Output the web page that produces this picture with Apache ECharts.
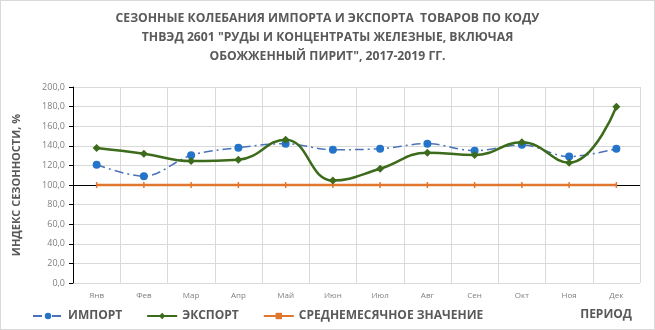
<!DOCTYPE html>
<html><head><meta charset="utf-8">
<script src="https://cdn.jsdelivr.net/npm/echarts@6/dist/echarts.min.js"></script>
<style>
html,body{margin:0;padding:0;background:#fff;}
#wrap{position:absolute;left:0;top:0;width:653px;height:328px;border:1px solid #d9d9d9;}
#c{width:653px;height:328px;}
</style></head>
<body><div id="wrap"><div id="c"></div></div>
<script>
const categories = ['Янв','Фев','Мар','Апр','Май','Июн','Июл','Авг','Сен','Окт','Ноя','Дек'];
const importValues = [120.7, 109.0, 130.3, 138.0, 142.2, 136.0, 137.0, 142.2, 135.0, 141.0, 129.0, 137.0];
const exportValues = [137.8, 132.0, 124.4, 125.8, 146.3, 104.6, 116.6, 133.0, 130.6, 143.6, 122.8, 179.8];
const averageValues = [100, 100, 100, 100, 100, 100, 100, 100, 100, 100, 100, 100];
const axisCrossValue = 100;
const yTicks = {min: 0, max: 200, interval: 20};
const seriesNames = ['ИМПОРТ', 'ЭКСПОРТ', 'СРЕДНЕМЕСЯЧНОЕ ЗНАЧЕНИЕ'];
const titleText = 'СЕЗОННЫЕ КОЛЕБАНИЯ ИМПОРТА И ЭКСПОРТА  ТОВАРОВ ПО КОДУ\nТНВЭД 2601 "РУДЫ И КОНЦЕНТРАТЫ ЖЕЛЕЗНЫЕ, ВКЛЮЧАЯ\nОБОЖЖЕННЫЙ ПИРИТ", 2017-2019 ГГ.';
const yName = 'ИНДЕКС СЕЗОННОСТИ, %';
const xName = 'ПЕРИОД';

const gray = '#595959';
const chart = echarts.init(document.getElementById('c'), null, {renderer: 'canvas'});
chart.setOption({
  animation: false,
  textStyle: {fontFamily: 'Open Sans'},
  title: [
    {text: titleText, left: 'center', top: 3,
     textStyle: {fontFamily: 'Open Sans', fontWeight: 'bold', fontSize: 12.2, color: gray, lineHeight: 19}},
    {text: xName, right: 17, bottom: 3,
     textStyle: {fontFamily: 'Open Sans', fontWeight: 'bold', fontSize: 12, color: gray}}
  ],
  grid: {left: 72, right: 14, top: 86, bottom: 46},
  legend: {
    left: 26, bottom: 2, itemGap: 24, itemWidth: 30, itemHeight: 8,
    data: seriesNames,
    textStyle: {fontFamily: 'Open Sans', fontWeight: 'bold', fontSize: 12, color: gray}
  },
  xAxis: {type: 'category', data: categories, boundaryGap: true,
     axisLine: {show: false}, axisTick: {show: false},
     axisLabel: {color: '#7f7f7f', fontSize: 8, margin: 9},
     splitLine: {show: true, lineStyle: {color: '#d9d9d9', width: 1}}},
  yAxis: {type: 'value', min: yTicks.min, max: yTicks.max, interval: yTicks.interval,
     name: yName, nameLocation: 'middle', nameGap: 51, nameRotate: 90,
     nameTextStyle: {fontFamily: 'Open Sans', fontWeight: 'bold', fontSize: 11, color: gray},
     axisLine: {show: true, lineStyle: {color: '#000', width: 1}},
     axisTick: {show: true, length: 4, lineStyle: {color: '#000'}},
     axisLabel: {color: '#7f7f7f', fontSize: 9, margin: 8,
       formatter: v => v.toFixed(1).replace('.', ',')},
     splitLine: {show: true, lineStyle: {color: '#d9d9d9', width: 1}}},
  series: [
    {name: 'axis', type: 'line', data: [], z: 1, silent: true,
     markLine: {silent: true, z: 1, symbol: 'none', label: {show: false},
       lineStyle: {color: '#000', width: 1, type: 'solid'},
       data: [{yAxis: axisCrossValue}]}},
    {name: seriesNames[2], type: 'line', data: averageValues, z: 3,
     symbol: 'rect', symbolSize: [1.5, 6], showSymbol: true,
     lineStyle: {color: '#E0772F', width: 2.5}, itemStyle: {color: '#E0772F'}},
    {name: seriesNames[0], type: 'line', data: importValues, smooth: 0.35, z: 4,
     symbol: 'circle', symbolSize: 8,
     lineStyle: {color: '#4A72B8', width: 1.5, type: [9, 4, 2, 4]},
     itemStyle: {color: '#2474C9'}},
    {name: seriesNames[1], type: 'line', data: exportValues, smooth: 0.45, z: 5,
     symbol: 'diamond', symbolSize: 8,
     lineStyle: {color: '#3D6B1C', width: 2.5},
     itemStyle: {color: '#3D6B1C'}}
  ]
});
</script></body></html>
